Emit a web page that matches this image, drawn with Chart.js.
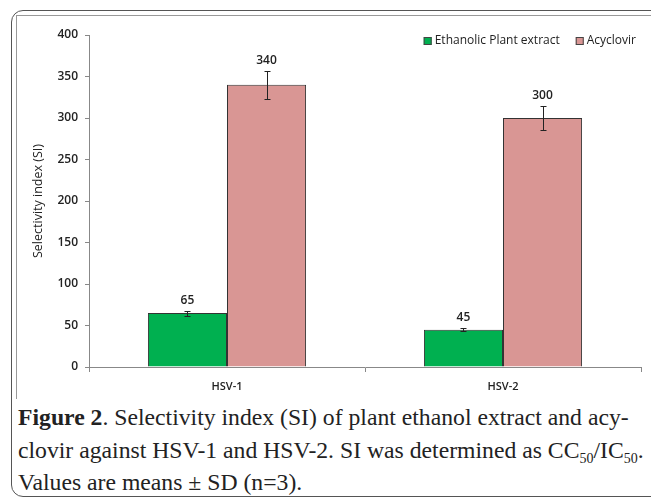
<!DOCTYPE html>
<html>
<head>
<meta charset="utf-8">
<script src="https://cdn.jsdelivr.net/npm/chart.js@4.4.1/dist/chart.umd.min.js"></script>
<style>
  body { margin: 0; background: #fff; width: 651px; height: 497px; overflow: hidden; position: relative; }
  .frame { position: absolute; left: 11px; top: 10px; width: 700px; height: 485px; border: 1px solid #555; border-radius: 12px; }
  .inner { position: absolute; left: 16px; top: 15px; width: 700px; height: 383px; border-top: 1px solid #999; border-left: 1px solid #999; }
  .chart-box { position: absolute; left: 16px; top: 15px; width: 635px; height: 385px; }
  .caption { position: absolute; left: 18px; top: 401px; font-family: "Liberation Serif", "Times New Roman", serif; font-size: 23.7px; line-height: 32.5px; color: #222; white-space: nowrap; }
  .caption sub { font-size: 14px; vertical-align: -5px; line-height: 0; }
</style>
</head>
<body>
<div class="frame"></div>
<div class="inner"></div>
<div class="chart-box"><canvas id="siChart"></canvas></div>
<div class="caption">
  <b>Figure 2</b>. Selectivity index (SI) of plant ethanol extract and acy-<br>
  clovir against HSV-1 and HSV-2. SI was determined as CC<sub>50</sub>/IC<sub>50</sub>.<br>
  Values are means ± SD (n=3).
</div>
<script>
const categories = ['HSV-1', 'HSV-2'];
const extractValues = [65, 45];
const extractErrors = [3, 2];
const acyclovirValues = [340, 300];
const acyclovirErrors = [17, 15];

Chart.defaults.font.family = '"Open Sans", sans-serif';
Chart.defaults.font.size = 12;
Chart.defaults.color = '#222';

// whiskers + value label above each bar
const errorBars = {
  id: 'errorBars',
  afterDatasetsDraw(chart) {
    const { ctx, scales: { y } } = chart;
    ctx.save();
    ctx.strokeStyle = '#222';
    ctx.lineWidth = 1;
    ctx.fillStyle = '#222';
    ctx.font = '600 12px "Open Sans", sans-serif';
    ctx.textAlign = 'center';
    ctx.textBaseline = 'middle';
    chart.data.datasets.forEach((ds, i) => {
      chart.getDatasetMeta(i).data.forEach((bar, j) => {
        const v = ds.data[j];
        const e = ds.errors[j];
        const top = Math.round(y.getPixelForValue(v + e)) + 0.5;
        const bot = Math.round(y.getPixelForValue(v - e)) + 0.5;
        const x = Math.round(bar.x) + 0.5;
        ctx.beginPath();
        ctx.moveTo(x, top);
        ctx.lineTo(x, bot);
        ctx.moveTo(x - 3, top);
        ctx.lineTo(x + 3, top);
        ctx.moveTo(x - 3, bot);
        ctx.lineTo(x + 3, bot);
        ctx.stroke();
        ctx.fillText(String(v), bar.x, top - 11);
      });
    });
    ctx.restore();
  },
};

// legend drawn inside the plot, top right
const insideLegend = {
  id: 'insideLegend',
  afterDraw(chart) {
    const { ctx, chartArea } = chart;
    ctx.save();
    ctx.font = '12px "Open Sans", sans-serif';
    ctx.textBaseline = 'middle';
    ctx.textAlign = 'left';
    const cy = chartArea.top + 6;
    let x = chartArea.right - 5;
    const items = chart.data.datasets.slice().reverse();
    items.forEach((ds) => {
      const w = ctx.measureText(ds.label).width;
      x -= w;
      ctx.fillStyle = '#222';
      ctx.fillText(ds.label, x, cy);
      x -= 3 + 8;
      ctx.fillStyle = ds.backgroundColor;
      ctx.fillRect(x, cy - 4, 8, 8);
      ctx.strokeStyle = '#444';
      ctx.strokeRect(x + 0.5, cy - 3.5, 7, 7);
      x -= 16;
    });
    ctx.restore();
  },
};

new Chart(document.getElementById('siChart'), {
  type: 'bar',
  data: {
    labels: categories,
    datasets: [
      {
        label: 'Ethanolic Plant extract',
        data: extractValues,
        errors: extractErrors,
        backgroundColor: '#00B050',
        borderColor: '#333',
        borderWidth: 1,
      },
      {
        label: 'Acyclovir',
        data: acyclovirValues,
        errors: acyclovirErrors,
        backgroundColor: '#D99694',
        borderColor: '#333',
        borderWidth: 1,
      },
    ],
  },
  options: {
    responsive: true,
    maintainAspectRatio: false,
    animation: false,
    categoryPercentage: 0.573,
    barPercentage: 1,
    layout: { padding: { left: 14, right: 10, top: 20, bottom: 3 } },
    plugins: {
      legend: { display: false },
      tooltip: { enabled: false },
    },
    scales: {
      x: {
        grid: { drawOnChartArea: false, tickLength: 5, color: '#888' },
        border: { color: '#888' },
        ticks: { font: { size: 11, weight: '600' }, padding: 8 },
        afterFit(scale) { scale.height = 30; },
      },
      y: {
        min: 0,
        max: 400,
        ticks: { stepSize: 50, font: { size: 12, weight: '600' }, padding: 7 },
        grid: { drawOnChartArea: false, tickLength: 4, color: '#888' },
        border: { color: '#888' },
        title: {
          display: true,
          text: 'Selectivity index (SI)',
          font: { size: 12.5 },
          padding: { top: 1, bottom: 0 },
        },
        afterFit(scale) { scale.width = 59; },
      },
    },
  },
  plugins: [errorBars, insideLegend],
});
</script>
</body>
</html>
